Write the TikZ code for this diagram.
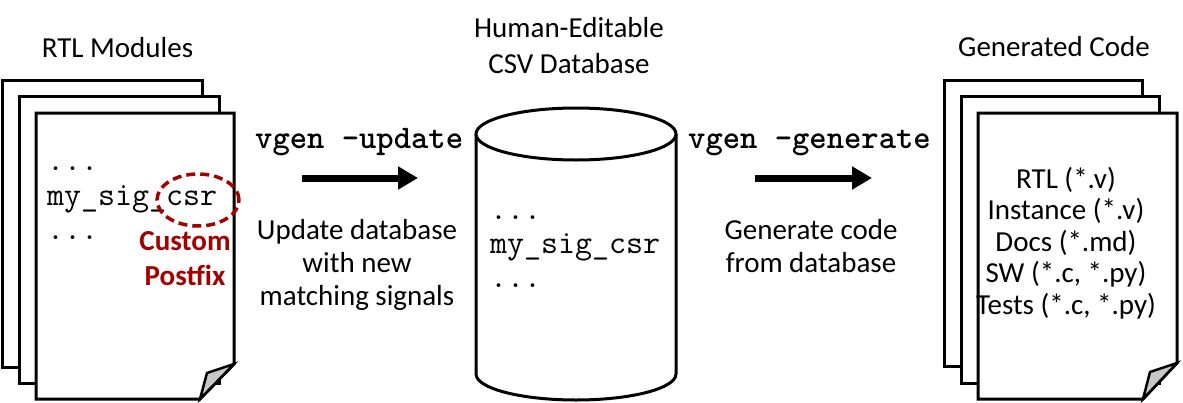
\documentclass[tikz,border=0pt]{standalone}
\usepackage{fontspec}
\setmainfont{Carlito}
\usetikzlibrary{arrows.meta}
\definecolor{pfred}{RGB}{163,0,0}
\definecolor{foldgray}{RGB}{200,200,200}
\begin{document}
\begin{tikzpicture}[x=1pt,y=-1pt,
  page/.style={draw=black,line width=3pt,fill=white,line join=miter},
  fold/.style={draw=black,line width=2.5pt,fill=foldgray,line join=miter},
  cyl/.style={draw=black,line width=3pt,fill=white},
  lbl/.style={inner sep=0pt,anchor=base,font=\fontsize{29}{33}\selectfont},
  code/.style={inner sep=0pt,anchor=base west,font=\ttfamily\fontsize{33}{36}\selectfont},
  cmd/.style={inner sep=0pt,anchor=base west,font=\ttfamily\bfseries\fontsize{33}{36}\selectfont},
  note/.style={inner sep=0pt,anchor=base,text=pfred,font=\bfseries\fontsize{29}{33}\selectfont},
  bigarrow/.style={line width=7pt,-{Triangle[length=20pt,width=22pt]}},
  circ/.style={draw=pfred,line width=3.5pt,dash pattern=on 9pt off 5pt}
]
\useasboundingbox (0,0) rectangle (1183,402);

% ---- left stack (RTL modules)
\draw[page] (2,80) rectangle (202,367);
\draw[page] (19,96) rectangle (219,383);
\draw[page] (36,113) -- (234,113) -- (234,364) -- (200,399) -- (36,399) -- cycle;
\draw[fold] (234,364) -- (207,373) -- (200,399) -- cycle;
\node[lbl] (rtlhead) at (117.5,57) {RTL Modules};
\node[code] (l1) at (47,170) {...};
\node[code] (l2) at (47,205) {my\_sig\_csr};
\node[code] (l3) at (47,239) {...};
\draw[circ] (198,200) ellipse[x radius=41pt, y radius=26pt];
\node[note] (cust) at (185,250) {Custom};
\node[note] (post) at (185,285) {Postfix};

% ---- update arrow
\node[cmd] (upd) at (255,148) {vgen -update};
\coordinate (ua) at (302,178);
\coordinate (ub) at (418,178);
\draw[bigarrow] (ua) -- (ub);
\node[lbl] (u1) at (357,239) {Update database};
\node[lbl] (u2) at (357,272) {with new};
\node[lbl] (u3) at (357,305) {matching signals};

% ---- database cylinder
\node[lbl] (dbh1) at (569,37) {Human-Editable};
\node[lbl] (dbh2) at (569,73) {CSV Database};
\draw[cyl] (476,134) -- (476,374) arc[start angle=180,end angle=360,x radius=100pt,y radius=26pt] -- (676,134);
\draw[cyl] (576,134) ellipse[x radius=100pt, y radius=26pt];
\node[code] (d1) at (490,219) {...};
\node[code] (d2) at (490,253) {my\_sig\_csr};
\node[code] (d3) at (490,287) {...};

% ---- generate arrow
\node[cmd] (gen) at (688,148) {vgen -generate};
\coordinate (ga) at (755,178);
\coordinate (gb) at (872,178);
\draw[bigarrow] (ga) -- (gb);
\node[lbl] (g1) at (811,239) {Generate code};
\node[lbl] (g2) at (811,272) {from database};

% ---- right stack (generated code)
\node[lbl] (genhead) at (1054,56) {Generated Code};
\draw[page] (944,80) rectangle (1142,366);
\draw[page] (961,96) rectangle (1159,383);
\draw[page] (978,113) -- (1177,113) -- (1177,363) -- (1143,399) -- (978,399) -- cycle;
\draw[fold] (1177,363) -- (1150,372) -- (1143,399) -- cycle;
\node[lbl] (r1) at (1066,188) {RTL (*.v)};
\node[lbl] (r2) at (1066,219.5) {Instance (*.v)};
\node[lbl] (r3) at (1066,251) {Docs (*.md)};
\node[lbl] (r4) at (1066,282.5) {SW (*.c, *.py)};
\node[lbl] (r5) at (1066,314) {Tests (*.c, *.py)};
\end{tikzpicture}
\end{document}
